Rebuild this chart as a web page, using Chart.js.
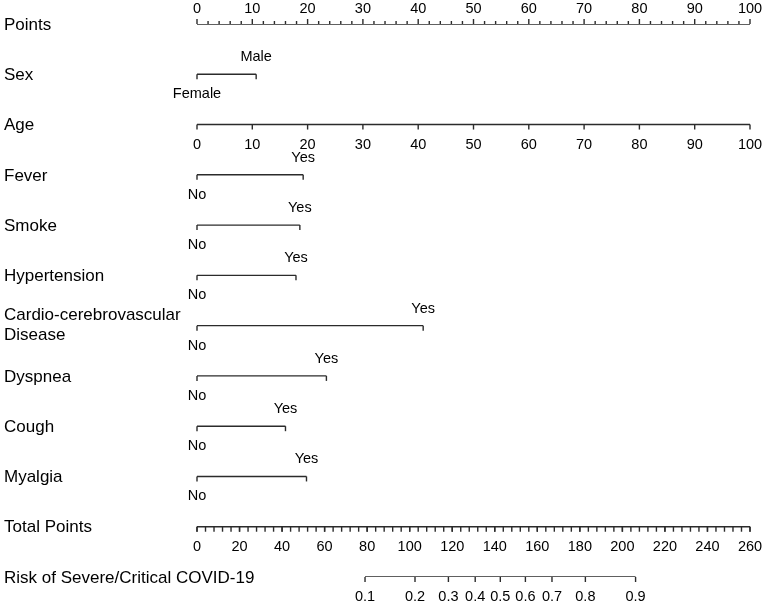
<!DOCTYPE html>
<html>
<head>
<meta charset="utf-8">
<script src="https://cdn.jsdelivr.net/npm/chart.js@4/dist/chart.umd.min.js"></script>
<style>
  html, body { margin: 0; padding: 0; background: #fff; }
  #wrap { width: 765px; height: 605px; position: relative; }
</style>
</head>
<body>
<div id="wrap"><canvas id="nomo"></canvas></div>
<script>
// points scale (top axis)
const pointTicks = [0, 10, 20, 30, 40, 50, 60, 70, 80, 90, 100];
const pointMinorStep = 2;

// sex
const sexLevels = ['Female', 'Male'];
const sexPoints = [0, 10.7];

// age (age value = points)
const ageTicks = [0, 10, 20, 30, 40, 50, 60, 70, 80, 90, 100];

// binary predictors, points for "Yes" (No = 0)
const binaryNames = ['Fever', 'Smoke', 'Hypertension', 'Cardio-cerebrovascular\nDisease', 'Dyspnea', 'Cough', 'Myalgia'];
const binaryLevels = ['No', 'Yes'];
const yesPoints = [19.2, 18.6, 17.9, 40.9, 23.4, 16.0, 19.8];

// total points axis
const totalTicks = [0, 20, 40, 60, 80, 100, 120, 140, 160, 180, 200, 220, 240, 260];
const totalMinorStep = 4;

// risk axis: labels and where they sit on the total points scale
const riskLabels = ['0.1', '0.2', '0.3', '0.4', '0.5', '0.6', '0.7', '0.8', '0.9'];
const riskTotals = [79, 102.5, 118.2, 130.8, 142.6, 154.4, 166.9, 182.6, 206.2];

const rowNames = ['Points', 'Sex', 'Age'].concat(binaryNames, ['Total Points', 'Risk of Severe/Critical COVID-19']);

const LINE = '#2b2b2b';
const FONT = '"Liberation Sans", Arial, sans-serif';

function seg(x0, x1, row, axis) {
  return {
    data: [{ x: x0, y: row }, { x: x1, y: row }],
    xAxisID: axis || 'x',
    showLine: true,
    borderColor: LINE,
    borderWidth: 1.4,
    pointRadius: 0
  };
}

const datasets = [];
datasets.push(seg(0, 100, 0));
datasets.push(seg(sexPoints[0], sexPoints[1], 1));
datasets.push(seg(0, ageTicks[ageTicks.length - 1], 2));
yesPoints.forEach((p, i) => datasets.push(seg(0, p, 3 + i)));
datasets.push(seg(0, 260, 10, 'xt'));
datasets.push(seg(riskTotals[0], riskTotals[riskTotals.length - 1], 11, 'xt'));

const nomogramPlugin = {
  id: 'nomogram',
  afterDatasetsDraw(chart) {
    const ctx = chart.ctx;
    const x = chart.scales.x, xt = chart.scales.xt, y = chart.scales.y;
    ctx.save();
    ctx.strokeStyle = LINE;
    ctx.lineWidth = 1.4;
    ctx.fillStyle = '#000';

    const tick = (px, py, len) => {
      ctx.beginPath();
      ctx.moveTo(px, py);
      ctx.lineTo(px, py + len);
      ctx.stroke();
    };
    const label = (txt, px, py) => {
      ctx.font = '14.5px ' + FONT;
      ctx.textAlign = 'center';
      ctx.textBaseline = 'middle';
      ctx.fillText(txt, px, py);
    };

    // row names
    ctx.font = '17px ' + FONT;
    ctx.textAlign = 'left';
    ctx.textBaseline = 'middle';
    rowNames.forEach((name, i) => {
      const py = y.getPixelForValue(i) + 1;
      const lines = name.split('\n');
      lines.forEach((ln, k) => {
        ctx.fillText(ln, 4, py + (k - (lines.length - 1) / 2) * 20 - (lines.length > 1 ? 1 : 0));
      });
    });

    // points axis (ticks up, labels above)
    let py = y.getPixelForValue(0);
    for (let v = 0; v <= 100; v += pointMinorStep) {
      tick(x.getPixelForValue(v), py, v % 10 === 0 ? -5 : -3);
    }
    pointTicks.forEach(v => label(String(v), x.getPixelForValue(v), py - 15));

    // sex
    py = y.getPixelForValue(1);
    sexPoints.forEach(p => tick(x.getPixelForValue(p), py, 5));
    label(sexLevels[0], x.getPixelForValue(sexPoints[0]), py + 20);
    label(sexLevels[1], x.getPixelForValue(sexPoints[1]), py - 17);

    // age
    py = y.getPixelForValue(2);
    ageTicks.forEach(v => {
      tick(x.getPixelForValue(v), py, 5);
      label(String(v), x.getPixelForValue(v), py + 20);
    });

    // binary rows
    yesPoints.forEach((p, i) => {
      const ry = y.getPixelForValue(3 + i);
      tick(x.getPixelForValue(0), ry, 5);
      tick(x.getPixelForValue(p), ry, 5);
      label(binaryLevels[0], x.getPixelForValue(0), ry + 20);
      label(binaryLevels[1], x.getPixelForValue(p), ry - 17);
    });

    // total points (ticks down, labels below)
    py = y.getPixelForValue(10);
    for (let v = 0; v <= 260; v += totalMinorStep) {
      tick(xt.getPixelForValue(v), py, 5);
    }
    totalTicks.forEach(v => {
      tick(xt.getPixelForValue(v), py, 5);
      label(String(v), xt.getPixelForValue(v), py + 20);
    });

    // risk
    py = y.getPixelForValue(11);
    riskTotals.forEach((t, i) => {
      tick(xt.getPixelForValue(t), py, 5);
      label(riskLabels[i], xt.getPixelForValue(t), py + 20);
    });

    ctx.restore();
  }
};

new Chart(document.getElementById('nomo'), {
  type: 'scatter',
  data: { datasets },
  options: {
    responsive: true,
    maintainAspectRatio: false,
    animation: false,
    layout: { padding: { left: 197, right: 15, top: 24, bottom: 28 } },
    plugins: { legend: { display: false }, tooltip: { enabled: false } },
    scales: {
      x: { type: 'linear', min: 0, max: 100, display: false },
      xt: { type: 'linear', axis: 'x', min: 0, max: 260, display: false },
      y: { type: 'linear', min: 0, max: 11, reverse: true, display: false }
    }
  },
  plugins: [nomogramPlugin]
});
</script>
</body>
</html>
